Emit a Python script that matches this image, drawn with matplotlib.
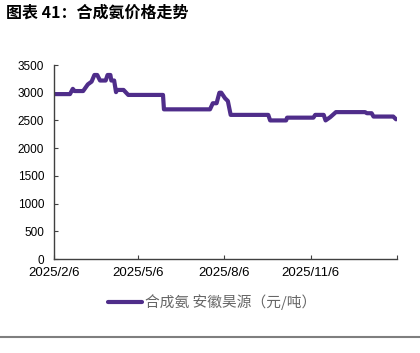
import matplotlib
matplotlib.use("Agg")
import matplotlib.pyplot as plt
import matplotlib.dates as mdates
from matplotlib.lines import Line2D
import pandas as pd

plt.rcParams['font.family'] = ['Liberation Sans', 'Noto Sans CJK SC', 'DejaVu Sans']

title = "图表 41：合成氨价格走势"
series_name = "合成氨 安徽昊源（元/吨）"

dates = ["2025-02-06", "2025-02-23", "2025-02-26", "2025-02-28", "2025-03-09",
         "2025-03-14", "2025-03-18", "2025-03-21", "2025-03-24", "2025-03-27",
         "2025-04-02", "2025-04-04", "2025-04-07", "2025-04-08", "2025-04-11",
         "2025-04-13", "2025-04-14", "2025-04-21", "2025-04-26", "2025-06-02",
         "2025-06-03", "2025-07-22", "2025-07-25", "2025-07-29", "2025-08-01",
         "2025-08-03", "2025-08-07", "2025-08-10", "2025-08-13", "2025-09-22",
         "2025-09-24", "2025-10-11", "2025-10-12", "2025-11-09", "2025-11-11",
         "2025-11-20", "2025-11-22", "2025-11-27", "2025-12-03", "2026-01-03",
         "2026-01-05", "2026-01-10", "2026-01-12", "2026-02-02", "2026-02-05"]
values = [2975, 2975, 3070, 3030, 3030,
          3150, 3200, 3320, 3320, 3220,
          3220, 3320, 3320, 3220, 3220,
          3010, 3050, 3050, 2960, 2960,
          2700, 2700, 2810, 2810, 3000,
          3000, 2900, 2850, 2600, 2600,
          2500, 2500, 2550, 2550, 2600,
          2600, 2500, 2560, 2650, 2650,
          2630, 2630, 2570, 2570, 2520]

tick_dates = ["2025-02-06", "2025-05-06", "2025-08-06", "2025-11-06", "2026-02-06"]
tick_labels = ["2025/2/6", "2025/5/6", "2025/8/6", "2025/11/6", ""]
y_ticks = [0, 500, 1000, 1500, 2000, 2500, 3000, 3500]

x = pd.to_datetime(dates)
xt = pd.to_datetime(tick_dates)

fig = plt.figure(figsize=(4.2, 3.53), dpi=100)
ax = fig.add_axes([54/420, 1-259/353, (397-54)/420, (259-65)/353])

line_color = '#4F2D8A'
ln, = ax.plot(x, values, color=line_color, lw=3, solid_joinstyle='round',
              solid_capstyle='round')

ax.set_xlim(xt[0], xt[-1])
ax.set_ylim(0, 3500)
ax.set_yticks(y_ticks)
ax.set_xticks(xt)
ax.set_xticklabels(tick_labels)

for s in ['top', 'right']:
    ax.spines[s].set_visible(False)
for s in ['left', 'bottom']:
    ax.spines[s].set_color('#404040')
    ax.spines[s].set_linewidth(1.0)

ax.tick_params(axis='y', direction='in', length=3, width=0.8, color='#404040',
               labelsize=8.5, pad=7, labelcolor='#000000')
ax.tick_params(axis='x', direction='in', length=3, width=0.8, color='#404040',
               labelsize=9.5, pad=6, labelcolor='#000000')

fig.text(6/420, 1-13/353, title, fontsize=11.5, fontweight='bold',
         family=['Noto Sans CJK SC'], va='center', ha='left')

leg = fig.legend([ln], [series_name], loc='center left',
                 bbox_to_anchor=(108/420, 1-302/353), frameon=False,
                 borderpad=0, borderaxespad=0, handlelength=2.3,
                 handletextpad=0.2, prop={'family': ['Noto Sans CJK SC'], 'size': 10.6})
for t in leg.get_texts():
    t.set_color('#666666')

fig.add_artist(Line2D([0, 1], [1-336.5/353, 1-336.5/353], transform=fig.transFigure,
                      color='#7f7f7f', lw=1.5))

fig.savefig("out.png", dpi=100)
